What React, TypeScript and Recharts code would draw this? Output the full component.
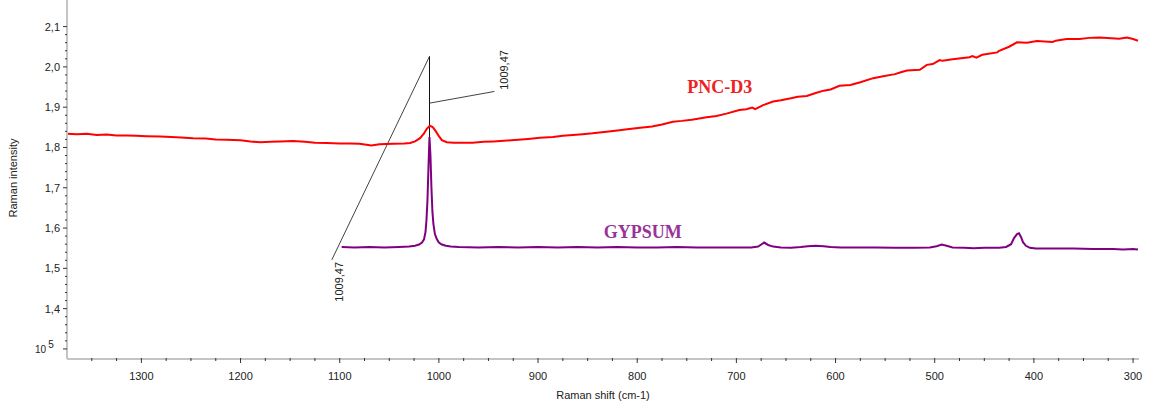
import { LineChart, Line, XAxis, YAxis, ReferenceLine, ReferenceDot } from 'recharts'

// Raman shift (cm-1) / intensity (x 10^5)
const pncShift = [
  1375, 1365, 1355, 1345, 1335, 1325, 1315, 1305, 1295, 1281, 1270, 1260, 1248, 1235, 1225, 1214,
  1200, 1190, 1180, 1170, 1160, 1147, 1135, 1125, 1113, 1100, 1090, 1080, 1068, 1060, 1046, 1035,
  1029, 1024, 1019, 1015, 1012, 1009, 1006, 1003, 1000, 997, 992, 985, 975, 966, 955, 945, 931, 920,
  910, 898, 885, 875, 865, 855, 845, 831, 820, 810, 797, 785, 775, 764, 755, 745, 730, 720, 710, 697,
  690, 684, 681, 673, 663, 655, 645, 638, 629, 620, 612, 605, 596, 585, 575, 562, 552, 540, 535, 528,
  515, 508, 502, 495, 492, 482, 465, 462, 458, 452, 437, 435, 425, 417, 407, 397, 381, 378, 367, 354,
  344, 334, 314, 306, 300, 295,
]
const pncIntensity = [
  1.834, 1.833, 1.834, 1.831, 1.832, 1.830, 1.830, 1.829, 1.828, 1.827, 1.826, 1.825, 1.823, 1.822,
  1.820, 1.819, 1.818, 1.815, 1.813, 1.814, 1.815, 1.816, 1.814, 1.812, 1.811, 1.810, 1.810, 1.809,
  1.805, 1.808, 1.809, 1.810, 1.811, 1.815, 1.823, 1.835, 1.847, 1.854, 1.850, 1.840, 1.828, 1.818,
  1.813, 1.812, 1.812, 1.812, 1.814, 1.815, 1.817, 1.819, 1.821, 1.824, 1.826, 1.829, 1.831, 1.833,
  1.835, 1.839, 1.842, 1.845, 1.849, 1.852, 1.857, 1.864, 1.866, 1.869, 1.875, 1.878, 1.884, 1.893,
  1.895, 1.899, 1.895, 1.905, 1.914, 1.917, 1.922, 1.926, 1.928, 1.935, 1.941, 1.944, 1.953, 1.955,
  1.962, 1.972, 1.977, 1.982, 1.986, 1.991, 1.993, 2.005, 2.007, 2.017, 2.015, 2.019, 2.024, 2.027,
  2.023, 2.030, 2.036, 2.040, 2.050, 2.061, 2.060, 2.064, 2.062, 2.065, 2.069, 2.069, 2.072, 2.073,
  2.070, 2.073, 2.069, 2.065,
]

const gypsumShift = [
  1098, 1085, 1070, 1055, 1040, 1030, 1024, 1020, 1017, 1015, 1013.5, 1012.5, 1011.5, 1010.5, 1009.5,
  1008.5, 1007.5, 1006.5, 1005.5, 1004, 1002, 1000, 997, 993, 988, 980, 960, 940, 920, 900, 880, 860,
  840, 820, 800, 780, 760, 740, 720, 700, 685, 678, 672, 668, 663, 655, 645, 635, 628, 620, 612, 605,
  595, 580, 560, 540, 520, 505, 498, 493, 488, 482, 470, 461, 450, 435, 428, 423, 420, 417, 415, 413,
  411, 408, 404, 398, 380, 360, 340, 320, 310, 300, 295,
]
const gypsumIntensity = [
  1.553, 1.552, 1.553, 1.552, 1.553, 1.554, 1.556, 1.559, 1.564, 1.572, 1.590, 1.620, 1.670, 1.750,
  1.826, 1.780, 1.700, 1.640, 1.610, 1.585, 1.572, 1.564, 1.559, 1.556, 1.554, 1.553, 1.552, 1.553,
  1.552, 1.553, 1.552, 1.553, 1.552, 1.553, 1.552, 1.552, 1.553, 1.552, 1.552, 1.552, 1.552, 1.554,
  1.564, 1.558, 1.554, 1.552, 1.551, 1.553, 1.555, 1.556, 1.555, 1.553, 1.552, 1.552, 1.552, 1.551,
  1.551, 1.552, 1.555, 1.559, 1.556, 1.552, 1.551, 1.550, 1.551, 1.551, 1.553, 1.560, 1.575, 1.585,
  1.587, 1.578, 1.565, 1.556, 1.551, 1.549, 1.549, 1.549, 1.548, 1.548, 1.547, 1.548, 1.547,
]

const xTickValues = [1300, 1200, 1100, 1000, 900, 800, 700, 600, 500, 400, 300]
const yTickValues = [1.3, 1.4, 1.5, 1.6, 1.7, 1.8, 1.9, 2.0, 2.1]

const peakShift = 1009.47
const peakLabel = '1009,47'

const pncData = pncShift.map((x, i) => ({ x, y: pncIntensity[i] }))
const gypsumData = gypsumShift.map((x, i) => ({ x, y: gypsumIntensity[i] }))

// minor ticks: every 25 cm-1 and every 0.02
const xTicks: number[] = []
for (let v = 1350; v >= 300; v -= 25) xTicks.push(v)
const yTicks: number[] = []
for (let i = 0; i <= 40; i++) yTicks.push(Math.round((1.3 + i * 0.02) * 100) / 100)

const isMajor = (v: number, majors: number[]) => majors.some((m) => Math.abs(m - v) < 1e-6)

const font = '"Liberation Sans", Arial, sans-serif'

function YTick(props: any) {
  const { x, y, payload } = props
  const v = payload.value
  const major = isMajor(v, yTickValues)
  return (
    <g>
      <line x1={x - (major ? 4 : 2)} x2={x} y1={y} y2={y} stroke="#333" strokeWidth={1} />
      {major && v !== 1.3 && (
        <text x={x - 7} y={y + 4} textAnchor="end" fontSize={11} fontFamily={font} fill="#222">
          {v.toFixed(1).replace('.', ',')}
        </text>
      )}
      {major && v === 1.3 && (
        <text x={x - 32} y={y + 4} textAnchor="start" fontSize={10} fontFamily={font} fill="#222">
          10
          <tspan dx={2} dy={-5} fontSize={10}>5</tspan>
        </text>
      )}
    </g>
  )
}

function XTick(props: any) {
  const { x, y, payload } = props
  const v = payload.value
  const major = isMajor(v, xTickValues)
  return (
    <g>
      <line x1={x} x2={x} y1={y - 1} y2={y + (major ? 4 : 2)} stroke="#333" strokeWidth={1} />
      {major && (
        <text x={x} y={y + 21} textAnchor="middle" fontSize={11} fontFamily={font} fill="#222">
          {v}
        </text>
      )}
    </g>
  )
}

function RotatedText(props: any) {
  const { viewBox, text, anchor } = props
  const x = viewBox.x
  const y = viewBox.y
  return (
    <text
      x={x}
      y={y}
      transform={`rotate(-90 ${x} ${y})`}
      textAnchor={anchor}
      fontSize={11}
      fontFamily={font}
      fill="#222"
    >
      {text}
    </text>
  )
}

function SeriesName(props: any) {
  const { viewBox, text, color } = props
  return (
    <text
      x={viewBox.x}
      y={viewBox.y}
      textAnchor="middle"
      fontSize={18}
      fontWeight="bold"
      fontFamily='"Liberation Serif", "Times New Roman", serif'
      fill={color}
    >
      {text}
    </text>
  )
}

export default function App() {
  return (
    <div style={{ position: 'absolute', left: 0, top: 0, background: '#fff' }}>
      <LineChart width={1154} height={407} margin={{ top: 0, right: 15, bottom: 0, left: 0 }}>
        <XAxis
          type="number"
          dataKey="x"
          domain={[294, 1375]}
          reversed
          allowDataOverflow
          ticks={xTicks}
          interval={0}
          tick={<XTick />}
          tickLine={false}
          tickSize={0}
          tickMargin={0}
          height={48}
          axisLine={{ stroke: '#c4c4c4', strokeWidth: 2 }}
          label={{
            value: 'Raman shift (cm-1)',
            position: 'insideBottom',
            offset: 8,
            fontSize: 11,
            fontFamily: font,
            fill: '#222',
          }}
        />
        <YAxis
          type="number"
          dataKey="y"
          domain={[1.275, 2.166]}
          allowDataOverflow
          ticks={yTicks}
          interval={0}
          tick={<YTick />}
          tickLine={false}
          tickSize={0}
          tickMargin={0}
          width={67}
          axisLine={{ stroke: '#c4c4c4', strokeWidth: 2 }}
          label={{
            content: (p: any) => (
              <text
                x={p.viewBox.x + 17}
                y={p.viewBox.y + 178}
                transform={`rotate(-90 ${p.viewBox.x + 17} ${p.viewBox.y + 178})`}
                textAnchor="middle"
                fontSize={11}
                fontFamily={font}
                fill="#222"
              >
                Raman intensity
              </text>
            ),
          }}
        />
        <ReferenceLine segment={[{ x: 1108, y: 1.521 }, { x: peakShift, y: 2.026 }]} stroke="#111" strokeWidth={0.8} />
        <ReferenceLine segment={[{ x: peakShift, y: 2.026 }, { x: peakShift, y: 1.826 }]} stroke="#111" strokeWidth={1} />
        <ReferenceLine segment={[{ x: 944, y: 1.939 }, { x: peakShift, y: 1.91 }]} stroke="#111" strokeWidth={0.8} />
        <ReferenceDot x={1096.8} y={1.516} r={0} fill="none" stroke="none" label={<RotatedText text={peakLabel} anchor="end" />} />
        <ReferenceDot x={930.4} y={1.943} r={0} fill="none" stroke="none" label={<RotatedText text={peakLabel} anchor="start" />} />
        <ReferenceDot x={716.7} y={1.935} r={0} fill="none" stroke="none" label={<SeriesName text="PNC-D3" color="#ee2222" />} />
        <ReferenceDot x={794.4} y={1.576} r={0} fill="none" stroke="none" label={<SeriesName text="GYPSUM" color="#993399" />} />
        <Line
          data={pncData}
          dataKey="y"
          type="linear"
          stroke="#ff0000"
          strokeWidth={2}
          dot={false}
          activeDot={false}
          isAnimationActive={false}
        />
        <Line
          data={gypsumData}
          dataKey="y"
          type="linear"
          stroke="#800080"
          strokeWidth={2}
          dot={false}
          activeDot={false}
          isAnimationActive={false}
        />
      </LineChart>
    </div>
  )
}
